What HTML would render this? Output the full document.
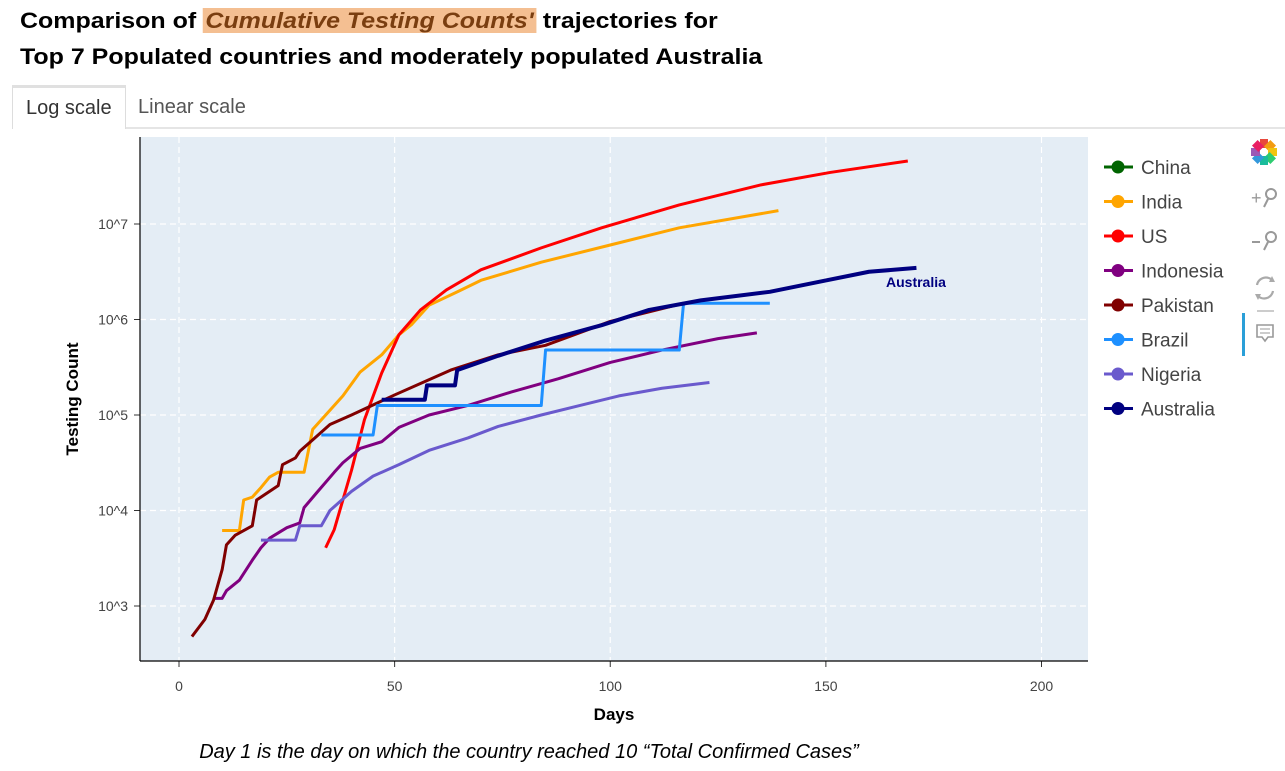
<!DOCTYPE html>
<html><head><meta charset="utf-8"><style>
body{margin:0;width:1285px;height:771px;background:#fff;font-family:"Liberation Sans",sans-serif;overflow:hidden;position:relative}
.t{position:absolute;left:20px;font-weight:bold;font-size:22px;color:#000;transform:scaleX(1.135);transform-origin:left top;white-space:nowrap}
.hl{background:#f4bf92;color:#7a3e10;font-style:italic;padding:0 2px}
.tabs{position:absolute;left:12px;top:85px;width:1273px;height:42px;border-bottom:2px solid #e5e5e5}
.tab{position:absolute;top:0;height:42px;line-height:44px;font-size:20px;color:#555;padding:0 13px}
.tab.a{border:1px solid #ddd;border-bottom:none;border-top:3px solid #e0e0e0;background:#fff;height:41px;line-height:40px;color:#333}
</style></head><body>
<div class="t" style="top:8px">Comparison of <span class="hl">Cumulative Testing Counts'</span> trajectories for</div>
<div class="t" style="top:44px">Top 7 Populated countries and moderately populated Australia</div>
<div class="tabs">
<div class="tab a" style="left:0">Log scale</div>
<div class="tab" style="left:113px">Linear scale</div>
</div>
<svg id="c" width="1285" height="771" style="position:absolute;left:0;top:0"></svg>
<script>
const categories=["China","India","US","Indonesia","Pakistan","Brazil","Nigeria","Australia"];
const colors=["#006400","#ffa500","#ff0000","#800080","#800000","#1e90ff","#6a5acd","#000080"];
const xTicks=[0,50,100,150,200];
const yTickExps=[3,4,5,6,7];
// [day, log10(testing count)]
const india=[[10,3.79],[14,3.79],[15,4.11],[17,4.14],[19,4.24],[21,4.35],[23,4.4],[29,4.4],[31,4.85],[35,5.05],[38,5.2],[42,5.45],[47,5.63],[51,5.84],[54,5.95],[58,6.15],[65,6.3],[70,6.41],[84,6.6],[100,6.78],[116,6.96],[139,7.14]];
const us=[[34,3.61],[36,3.8],[40,4.42],[43,4.95],[47,5.44],[51,5.84],[56,6.1],[62,6.31],[70,6.52],[84,6.75],[98,6.96],[116,7.2],[135,7.41],[151,7.54],[169,7.66]];
const indonesia=[[8,3.08],[10,3.08],[11,3.16],[14,3.27],[17,3.48],[19,3.61],[21,3.71],[25,3.82],[28,3.87],[29,4.03],[32,4.19],[36,4.4],[38,4.5],[42,4.65],[47,4.72],[51,4.87],[58,5.0],[67,5.1],[77,5.24],[88,5.38],[100,5.55],[112,5.68],[125,5.8],[134,5.86]];
const pakistan=[[3,2.68],[6,2.86],[8,3.06],[10,3.38],[11,3.64],[13,3.74],[17,3.84],[18,4.11],[21,4.2],[23,4.26],[24,4.48],[27,4.55],[28,4.62],[31,4.74],[35,4.9],[40,5.0],[50,5.21],[63,5.47],[74,5.63],[85,5.73],[100,5.98],[117,6.17]];
const brazil=[[33,4.79],[45,4.79],[46,5.10],[84,5.10],[85,5.68],[116,5.68],[117,6.17],[137,6.17]];
const nigeria=[[19,3.69],[27,3.69],[28,3.84],[33,3.84],[35,4.0],[40,4.2],[45,4.36],[51,4.48],[58,4.63],[67,4.76],[74,4.88],[84,5.0],[93,5.1],[102,5.2],[112,5.28],[123,5.34]];
const australia=[[47,5.16],[57,5.16],[57.5,5.31],[64,5.31],[64.5,5.47],[74,5.62],[85,5.78],[98,5.94],[109,6.1],[121,6.2],[137,6.29],[149,6.4],[160,6.5],[171,6.54]];
const seriesData=[[],india,us,indonesia,pakistan,brazil,nigeria,australia];
const L=140,R=1088,T=137,B=661;
const xs=d=>179+d*4.3125;
const ys=e=>606-(e-3)*95.5;
const NS="http://www.w3.org/2000/svg";
const svg=document.getElementById('c');
function mk(t,a,txt){const e=document.createElementNS(NS,t);for(const k in a)e.setAttribute(k,a[k]);if(txt!=null)e.textContent=txt;svg.appendChild(e);return e;}
let bg=mk('rect',{x:L,y:T,width:R-L,height:B-T,fill:'#e4edf5'});


xTicks.forEach(v=>{let g=mk('line',{x1:xs(v),x2:xs(v),y1:T,y2:B,stroke:'#fff','stroke-width':1.2,'stroke-dasharray':'6,4'});


mk('line',{x1:xs(v),x2:xs(v),y1:B,y2:B+6,stroke:'#333'});
let t=mk('text',{x:xs(v),y:B+30,'text-anchor':'middle','font-size':14,fill:'#444'},v);

});
yTickExps.forEach(v=>{let g=mk('line',{x1:L,x2:R,y1:ys(v),y2:ys(v),stroke:'#fff','stroke-width':1.2,'stroke-dasharray':'6,4'});


mk('line',{x1:L-6,x2:L,y1:ys(v),y2:ys(v),stroke:'#333'});
let t=mk('text',{x:L-12,y:ys(v)+5,'text-anchor':'end','font-size':14,fill:'#444'},'10^'+v);

});
mk('line',{x1:L,x2:L,y1:T,y2:B,stroke:'#000','stroke-width':1.2});
mk('line',{x1:L,x2:R,y1:B,y2:B,stroke:'#000','stroke-width':1.2});
seriesData.forEach((s,i)=>{if(!s.length)return;
let p=mk('polyline',{points:s.map(d=>xs(d[0])+','+ys(d[1])).join(' '),fill:'none',stroke:colors[i],'stroke-width':i==7?4:3,'stroke-linejoin':'round'});

});
let al=mk('text',{x:886,y:287,'font-size':14,'font-weight':'bold',fill:'#000080'},'Australia');


let xt=mk('text',{x:614,y:720,'text-anchor':'middle','font-size':17,'font-weight':'bold'},'Days');


let yt=mk('text',{x:78,y:399,'text-anchor':'middle','font-size':17,'font-weight':'bold',transform:'rotate(-90 78 399)'},'Testing Count');


let ft=mk('text',{x:529,y:758,'text-anchor':'middle','font-size':20,'font-style':'italic'},'Day 1 is the day on which the country reached 10 \u201cTotal Confirmed Cases\u201d');


categories.forEach((c,i)=>{const y=167+i*34.5;
let g=document.createElementNS(NS,'g');svg.appendChild(g);


g.innerHTML=`<line x1="1104" x2="1133" y1="${y}" y2="${y}" stroke="${colors[i]}" stroke-width="3"/><circle cx="1118" cy="${y}" r="6.5" fill="${colors[i]}"/><text x="1141" y="${y+7}" font-size="19" fill="#444">${c}</text>`;});
let tb=document.createElementNS(NS,'g');svg.appendChild(tb);


tb.innerHTML=`<g transform="translate(1264,152)">${['#e8483c','#f39c12','#f1c40f','#2ecc71','#1abc9c','#3498db','#9b59b6','#e91e63'].map((c,k)=>`<rect x="-4" y="-13" width="8" height="9" fill="${c}" transform="rotate(${k*45})"/>`).join('')}</g>
<text x="1251" y="204" font-size="18" fill="#999">+</text><circle cx="1271" cy="194" r="5" fill="none" stroke="#999" stroke-width="2"/><line x1="1268" y1="199" x2="1264" y2="207" stroke="#999" stroke-width="2"/>
<line x1="1252" y1="242" x2="1260" y2="242" stroke="#999" stroke-width="2"/><circle cx="1271" cy="237" r="5" fill="none" stroke="#999" stroke-width="2"/><line x1="1268" y1="242" x2="1264" y2="250" stroke="#999" stroke-width="2"/>
<path d="M1257 285 a9 9 0 0 1 16 -4 M1273 291 a9 9 0 0 1 -16 4" fill="none" stroke="#aaa" stroke-width="2.2"/><path d="M1272 276 l3 6 l-6 0z M1258 300 l-3 -6 l6 0z" fill="#aaa"/>
<line x1="1257" y1="311" x2="1274" y2="311" stroke="#ccc" stroke-width="2"/>
<rect x="1242" y="313" width="3" height="43" fill="#2a9fd8"/>
<path d="M1257 325 h16 v12 h-5 l-3 4 l-3 -4 h-5z" fill="none" stroke="#999" stroke-width="1.6"/><line x1="1260" y1="329" x2="1270" y2="329" stroke="#999"/><line x1="1260" y1="333" x2="1270" y2="333" stroke="#999"/>`;
</script>
</body></html>
